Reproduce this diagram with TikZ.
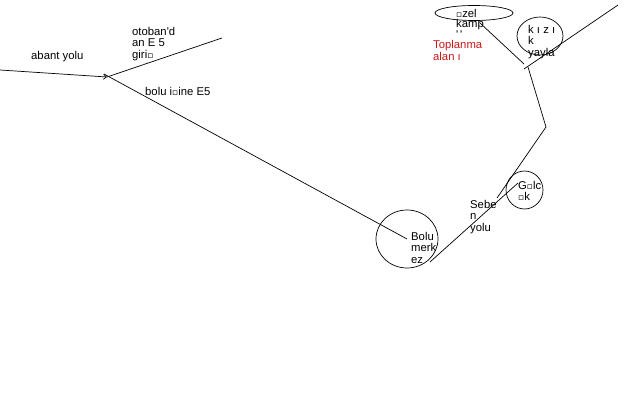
\documentclass[tikz,border=0pt]{standalone}
\usepackage{fontspec}
\setmainfont{Liberation Sans}
\newfontfamily\lsfont{Liberation Sans}
\newfontfamily\dvfont{DejaVu Sans}
\usetikzlibrary{shapes.geometric,arrows.meta}
\newcommand\bxg{{\dvfont\fontsize{9}{9}\selectfont ▫}}
\definecolor{labelred}{RGB}{200,24,24}
\begin{document}
\begin{tikzpicture}[x=1pt,y=-1pt,
  road/.style={line width=0.7pt, black},
  lbl/.style={anchor=north west, inner sep=0pt, align=left,
    font=\lsfont\fontsize{11.3}{11.5}\selectfont},
  place/.style={draw, ellipse, line width=0.7pt, inner sep=0pt}]
\useasboundingbox (0,0) rectangle (627,404);
% places
\node[place, minimum width=62pt, minimum height=58pt] (bolu) at (407,239) {};
\node[place, minimum width=37pt, minimum height=38pt] (golcuk) at (524.5,190) {};
\node[place, minimum width=46pt, minimum height=38pt] (kizik) at (540,36) {};
\node[place, minimum width=78pt, minimum height=15pt] (ozel) at (474,13) {};
% junction coordinates
\coordinate (abantS) at (0,70);
\coordinate (jct) at (107,77);
\coordinate (otobanE) at (222,38);
\coordinate (e5S) at (104,74);
\coordinate (seS) at (430,262);
\coordinate (seE) at (518,183);
\coordinate (golA) at (497,198);
\coordinate (bend) at (546,127);
\coordinate (kTop) at (528,67);
\coordinate (kL) at (524,69);
\coordinate (ne) at (618,5);
\coordinate (ozS) at (480,23);
\coordinate (ozE) at (524,64);
% roads
\draw[road, -{Straight Barb[length=3pt,width=5pt]}] (abantS) -- (jct);
\draw[road] (jct) -- (otobanE);
\draw[road] (e5S) -- (bolu.center);
\draw[road] (seS) -- (seE);
\draw[road] (golA) -- (bend);
\draw[road] (bend) -- (kTop);
\draw[road] (kL) -- (ne);
\draw[road] (ozS) -- (ozE);
% labels
\node[lbl] (tabant) at (31,51) {abant yolu};
\node[lbl] (totoban) at (132,27) {otoban'd\\an E 5\\giri\bxg};
\node[lbl] (tbolue5) at (145,87) {bolu i\bxg ine E5};
\node[lbl] (tbolum) at (411,232) {Bolu\\merk\\ez};
\node[lbl] (tsebe) at (470,200) {Sebe\\n\\yolu};
\node[lbl] (tgolcuk) at (518,181) {G\bxg lc\\\bxg k};
\node[lbl, font=\lsfont\fontsize{11.3}{10.5}\selectfont] (tozel) at (456,9) {\bxg zel\\kamp\\'\,'};
\node[lbl, text=labelred] (ttop) at (433,40.5) {Toplanma\\alan ı};
\node[lbl] (tkizik) at (528,25) {k ı z ı\\k\\yayla};
\end{tikzpicture}
\end{document}
